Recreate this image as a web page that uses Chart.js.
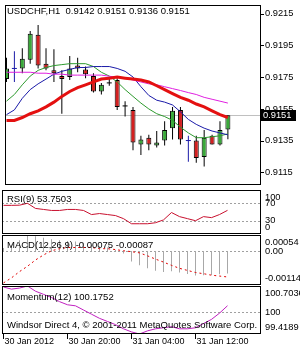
<!DOCTYPE html>
<html>
<head>
<meta charset="utf-8">
<title>USDCHF,H1</title>
<script src="https://cdn.jsdelivr.net/npm/chart.js@4.4.1/dist/chart.umd.min.js"></script>
<style>
  body { margin: 0; background: #fff; }
  #box { position: relative; width: 300px; height: 350px; overflow: hidden; background: #fff; }
  canvas { position: absolute; left: 0; }
</style>
</head>
<body>
<div id="box">
  <canvas id="main" width="300" height="190" style="top:0px"></canvas>
  <canvas id="rsi" width="300" height="44" style="top:190px"></canvas>
  <canvas id="macd" width="300" height="50" style="top:235px"></canvas>
  <canvas id="mom" width="300" height="64" style="top:286px"></canvas>
</div>
<script>
const symbol = 'USDCHF'
const period = 'H1'

const times = [
  '30 Jan 12:00', '30 Jan 13:00', '30 Jan 14:00', '30 Jan 15:00', '30 Jan 16:00', '30 Jan 17:00',
  '30 Jan 18:00', '30 Jan 19:00', '30 Jan 20:00', '30 Jan 21:00', '30 Jan 22:00', '30 Jan 23:00',
  '31 Jan 00:00', '31 Jan 01:00', '31 Jan 02:00', '31 Jan 03:00', '31 Jan 04:00', '31 Jan 05:00',
  '31 Jan 06:00', '31 Jan 07:00', '31 Jan 08:00', '31 Jan 09:00', '31 Jan 10:00', '31 Jan 11:00',
  '31 Jan 12:00', '31 Jan 13:00', '31 Jan 14:00', '31 Jan 15:00', '31 Jan 16:00'
]

const opens  = [0.91738, 0.91805, 0.91805, 0.91860, 0.92017, 0.91835, 0.91793, 0.91757, 0.91751, 0.91823,
                0.91799, 0.91757, 0.91660, 0.91714, 0.91732, 0.91569, 0.91544, 0.91326, 0.91369, 0.91320,
                0.91351, 0.91429, 0.91544, 0.91351, 0.91351, 0.91247, 0.91381, 0.91326, 0.9142]
const highs  = [0.91872, 0.91914, 0.91932, 0.92041, 0.92078, 0.91932, 0.91926, 0.91793, 0.91884, 0.91872,
                0.91817, 0.91775, 0.91714, 0.91738, 0.91744, 0.91599, 0.91563, 0.91381, 0.91387, 0.91411,
                0.91472, 0.91563, 0.91563, 0.91381, 0.91381, 0.91417, 0.91387, 0.91472, 0.9151]
const lows   = [0.91720, 0.91720, 0.91775, 0.91835, 0.91805, 0.91793, 0.91720, 0.91520, 0.91732, 0.91781,
                0.91744, 0.91654, 0.91641, 0.91696, 0.91544, 0.91502, 0.91290, 0.91260, 0.91290, 0.91308,
                0.91320, 0.91357, 0.91326, 0.91217, 0.91211, 0.91187, 0.91326, 0.91320, 0.9136]
const closes = [0.91805, 0.91805, 0.91866, 0.92023, 0.91823, 0.91805, 0.91775, 0.91738, 0.91805, 0.91805,
                0.91769, 0.91660, 0.91702, 0.91714, 0.91563, 0.91569, 0.91338, 0.91357, 0.91326, 0.91338,
                0.91417, 0.91538, 0.91357, 0.91351, 0.91241, 0.91369, 0.91326, 0.91417, 0.9151]

const maRed     = [0.91478, 0.91478, 0.91496, 0.91520, 0.91538, 0.91563, 0.91593, 0.91629, 0.91660, 0.91684,
                   0.91702, 0.91720, 0.91738, 0.91744, 0.91751, 0.91744, 0.91738, 0.91732, 0.91720, 0.91696,
                   0.91672, 0.91647, 0.91623, 0.91605, 0.91581, 0.91563, 0.91538, 0.91514, 0.91496]
const maBlue    = [0.91514, 0.91544, 0.91617, 0.91672, 0.91708, 0.91738, 0.91769, 0.91787, 0.91799, 0.91811,
                   0.91811, 0.91817, 0.91817, 0.91817, 0.91805, 0.91787, 0.91751, 0.91690, 0.91635, 0.91605,
                   0.91593, 0.91575, 0.91532, 0.91484, 0.91453, 0.91429, 0.91411, 0.91399, 0.91387]
const maGreen   = [0.91599, 0.91641, 0.91702, 0.91757, 0.91793, 0.91811, 0.91823, 0.91829, 0.91835, 0.91835,
                   0.91835, 0.91817, 0.91781, 0.91757, 0.91720, 0.91672, 0.91629, 0.91587, 0.91550, 0.91520,
                   0.91502, 0.91478, 0.91435, 0.91399, 0.91369, 0.91369, 0.91375, 0.91381, 0.91393]
const maMagenta = [0.91781, 0.91781, 0.91781, 0.91781, 0.91775, 0.91775, 0.91769, 0.91769, 0.91763, 0.91763,
                   0.91763, 0.91763, 0.91763, 0.91756, 0.91750, 0.91744, 0.91732, 0.91720, 0.91708, 0.91702,
                   0.91690, 0.91678, 0.91666, 0.91653, 0.91641, 0.91623, 0.91611, 0.91599, 0.91587]

const rsi = [65.1, 65.1, 65.5, 69.8, 58.1, 55.8, 53.5, 53.5, 55.8, 55.8,
             53.5, 44.2, 46.5, 44.2, 41.9, 34.9, 23.3, 23.3, 23.3, 25.6,
             32.0, 48.8, 39.5, 34.9, 30.2, 39.5, 37.2, 44.2, 53.7503]

const macdMain   = [0.00010, 0.00022, 0.00036, 0.00054, 0.00050, 0.00045, 0.00040, 0.00036, 0.00034, 0.00032,
                    0.00028, 0.00020, 0.00016, 0.00012, 0.00004, -0.00008, -0.00035, -0.00048, -0.00058, -0.00066,
                    -0.00070, -0.00068, -0.00072, -0.00077, -0.00082, -0.00081, -0.00080, -0.00078, -0.00075]
const macdSignal = [-0.00107, -0.00090, -0.00069, -0.00051, -0.00030, -0.00013, 0.00001, 0.00008, 0.00012, 0.00012,
                    0.00012, 0.00012, 0.00008, 0.00008, 0.00005, 0.00001, -0.00002, -0.00006, -0.00016, -0.00027,
                    -0.00037, -0.00048, -0.00058, -0.00065, -0.00072, -0.00076, -0.00081, -0.00084, -0.00087]

const momentum = [100.676, 100.620, 100.648, 100.7036, 100.564, 100.480, 100.396, 100.285, 100.201, 100.173,
                  100.061, 99.949, 99.838, 99.754, 99.670, 99.558, 99.475, 99.4189, 99.503, 99.558,
                  99.586, 99.614, 99.558, 99.558, 99.586, 99.698, 99.810, 99.977, 100.1752]

const priceTicks = [0.9215, 0.9195, 0.9175, 0.9155, 0.9135, 0.9115]
const rsiTicks = [100, 70, 30, 0]
const rsiLevels = [70, 30]
const macdTicks = [0.00054, 0, -0.00114]
const macdTickLabels = ['0.00054', '0.00', '-0.00114']
const macdLevels = [0]
const momTicks = [100.7036, 100, 99.4189]
const momTickLabels = ['100.7036', '100', '99.4189']
const momLevels = [100]
const timeTicks = [0, 8, 16, 24]
const timeTickLabels = ['30 Jan 2012', '30 Jan 20:00', '31 Jan 04:00', '31 Jan 12:00']

const blueDoji = [1, 23]

const FONT = '"Liberation Sans", Arial, sans-serif'
const GREEN = '#3aa93a'
const RED = '#d42020'
const last = closes.length - 1
const pts = arr => arr.map((v, i) => ({x: i, y: v}))

// panel decorations: border, levels, texts, right labels
const panels = {
  main: {
    texts: [{t: `${symbol},${period}  ${opens[last].toFixed(4)} ${highs[last].toFixed(4)} ${lows[last].toFixed(4)} ${closes[last].toFixed(4)}`, x: 7, y: 11.5}],
    ticks: priceTicks, labels: priceTicks.map(v => v.toFixed(4)), marks: true, price: closes[last]
  },
  rsi: {
    texts: [{t: `RSI(9) ${rsi[last].toFixed(4)}`, x: 7, y: 9}],
    ticks: rsiTicks, labels: rsiTicks.map(String), levels: rsiLevels
  },
  macd: {
    texts: [{t: `MACD(12,26,9) ${macdMain[last].toFixed(5)} ${macdSignal[last].toFixed(5)}`, x: 7, y: 10.5}],
    ticks: macdTicks, labels: macdTickLabels, levels: macdLevels
  },
  mom: {
    texts: [{t: `Momentum(12) ${momentum[last].toFixed(4)}`, x: 7, y: 11},
            {t: 'Windsor Direct 4, \u00a9 2001-2011 MetaQuotes Software Corp.', x: 7, y: 39.5}],
    ticks: momTicks, labels: momTickLabels, levels: momLevels
  }
}

const decor = {
  id: 'decor',
  beforeDatasetsDraw(chart) {
    const p = panels[chart.canvas.id]
    const {ctx, chartArea: a} = chart
    const y = chart.scales.y
    ctx.save()
    ctx.lineWidth = 1
    ctx.strokeStyle = '#a0a0a0'
    ctx.setLineDash([2, 2])
    ;(p.levels || []).forEach(v => {
      const py = Math.round(y.getPixelForValue(v)) + 0.5
      ctx.beginPath(); ctx.moveTo(a.left, py); ctx.lineTo(a.right, py); ctx.stroke()
    })
    ctx.setLineDash([])
    if (p.price !== undefined) {
      const py = Math.round(y.getPixelForValue(p.price)) + 0.5
      ctx.strokeStyle = '#c0c0c0'
      ctx.beginPath(); ctx.moveTo(a.left, py); ctx.lineTo(a.right, py); ctx.stroke()
    }
    ctx.restore()
  },
  afterDraw(chart) {
    const p = panels[chart.canvas.id]
    const {ctx, chartArea: a} = chart
    const y = chart.scales.y
    ctx.save()
    ctx.strokeStyle = '#000'
    ctx.lineWidth = 1
    ctx.strokeRect(a.left + 0.5, a.top + 0.5, a.width - 1, a.height - 1)

    ctx.fillStyle = '#000'
    ctx.textBaseline = 'middle'
    ctx.font = `9.5px ${FONT}`
    p.texts.forEach(t => ctx.fillText(t.t, t.x, t.y))

    ctx.font = `9.3px ${FONT}`
    p.ticks.forEach((v, k) => {
      let py = y.getPixelForValue(v)
      py = Math.min(Math.max(py, a.top + 7), a.bottom - 7)
      ctx.fillText(p.labels[k], a.right + 4, py)
      if (p.marks) {
        ctx.beginPath(); ctx.moveTo(a.right, Math.round(py) + 0.5); ctx.lineTo(a.right + 3, Math.round(py) + 0.5); ctx.stroke()
      }
    })

    if (p.price !== undefined) {
      const py = Math.round(y.getPixelForValue(p.price))
      ctx.fillStyle = '#000'
      ctx.fillRect(a.right, py - 5, 35, 11)
      ctx.fillStyle = '#fff'
      ctx.fillText(p.price.toFixed(4), a.right + 2, py + 0.5)
    }
    ctx.restore()
  }
}

const xAxis = {type: 'linear', min: -0.1875, max: 32.1875, offset: false, display: false}
const yAxis = (min, max) => ({type: 'linear', min, max, display: false})

function baseOptions(yMin, yMax, padTop, padBottom) {
  return {
    responsive: false,
    animation: false,
    events: [],
    layout: {padding: {left: 2, right: 39, top: padTop, bottom: padBottom}},
    plugins: {legend: {display: false}, tooltip: {enabled: false}},
    scales: {x: {...xAxis}, y: yAxis(yMin, yMax)}
  }
}

// main price panel
new Chart(document.getElementById('main'), {
  type: 'bar',
  data: {
    datasets: [
      {
        type: 'line', data: pts(maRed), borderColor: '#e41010', borderWidth: 3,
        pointRadius: 0, order: 1
      },
      {
        type: 'line', data: pts(maMagenta), borderColor: '#e020e0', borderWidth: 1,
        pointRadius: 0, order: 2
      },
      {
        type: 'line', data: pts(maBlue), borderColor: '#1a1aa8', borderWidth: 1,
        pointRadius: 0, order: 2
      },
      {
        type: 'line', data: pts(maGreen), borderColor: '#2e9a2e', borderWidth: 1,
        pointRadius: 0, order: 2
      },
      {
        type: 'line', showLine: false,
        data: closes.map((c, i) => ({x: i, y: c})).filter(d => opens[d.x] === d.y),
        pointStyle: 'line', pointRadius: 2.5, pointBorderWidth: 1,
        pointBorderColor: ctx => blueDoji.includes(ctx.raw.x) ? '#1a1aa8' : '#000',
        order: 3
      },
      {
        type: 'bar', grouped: false, maxBarThickness: 5, inflateAmount: 0,
        data: closes.map((c, i) => ({x: i, y: [opens[i], c]})).filter(d => d.y[0] !== d.y[1]),
        backgroundColor: ctx => closes[ctx.raw.x] > opens[ctx.raw.x] ? GREEN : RED,
        borderColor: '#000', borderWidth: 1, borderSkipped: false,
        order: 4
      },
      {
        type: 'bar', grouped: false, maxBarThickness: 1, inflateAmount: 0,
        data: lows.map((l, i) => ({x: i, y: [l, highs[i]]})),
        backgroundColor: ctx => blueDoji.includes(ctx.raw.x) ? '#1a1aa8' : '#000',
        borderWidth: 0,
        order: 5
      }
    ]
  },
  options: baseOptions(0.910712, 0.922045, 2, 1),
  plugins: [decor]
})

// RSI panel
new Chart(document.getElementById('rsi'), {
  type: 'line',
  data: {
    datasets: [{data: pts(rsi), borderColor: '#c8102e', borderWidth: 1, pointRadius: 0}]
  },
  options: baseOptions(0, 100, 0, 0),
  plugins: [decor]
})

// MACD panel
new Chart(document.getElementById('macd'), {
  type: 'bar',
  data: {
    datasets: [
      {
        type: 'line', data: pts(macdSignal), borderColor: '#e00000', borderWidth: 1,
        borderDash: [2, 3], pointRadius: 0, order: 1
      },
      {
        type: 'bar', data: pts(macdMain), backgroundColor: '#a8a8a8',
        maxBarThickness: 1, inflateAmount: 0, order: 2
      }
    ]
  },
  options: baseOptions(Math.min(...macdTicks), Math.max(...macdTicks), 0, 0),
  plugins: [decor]
})

// Momentum panel with time axis
const momOptions = baseOptions(Math.min(...momTicks), Math.max(...momTicks), 0, 0)
momOptions.scales.x = {
  type: 'linear', min: -0.1875, max: 32.1875, offset: false,
  afterBuildTicks: s => { s.ticks = timeTicks.map(v => ({value: v})) },
  afterFit: s => { s.height = 16 },
  border: {display: false},
  grid: {drawOnChartArea: false, drawTicks: true, tickLength: 5, color: '#000'},
  ticks: {
    align: 'start', autoSkip: false, maxRotation: 0, padding: -3, labelOffset: 1,
    color: '#000', font: {family: FONT, size: 9},
    callback: v => timeTickLabels[timeTicks.indexOf(v)]
  }
}
new Chart(document.getElementById('mom'), {
  type: 'line',
  data: {
    datasets: [{data: pts(momentum), borderColor: '#c020c0', borderWidth: 1, pointRadius: 0}]
  },
  options: momOptions,
  plugins: [decor]
})
</script>
</body>
</html>
